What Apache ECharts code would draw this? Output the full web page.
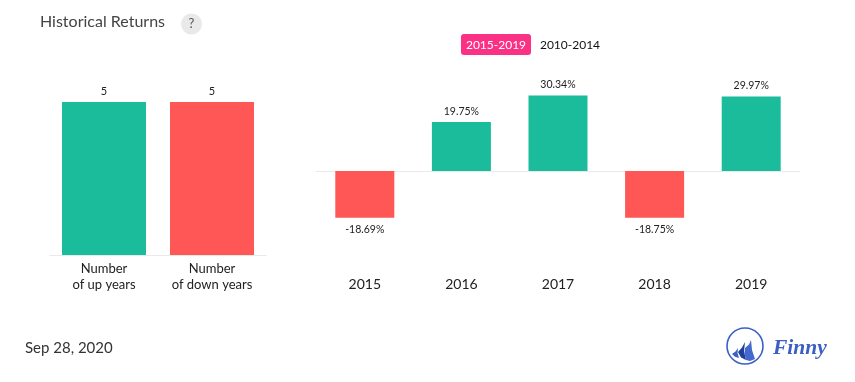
<!DOCTYPE html>
<html><head><meta charset="utf-8">
<style>html,body{margin:0;padding:0;background:#fff}#c{width:855px;height:382px}</style>
<script src="https://cdn.jsdelivr.net/npm/echarts@6/dist/echarts.min.js"></script>
</head><body><div id="c"></div>
<script>
const countCategories = ['Number\nof up years', 'Number\nof down years'];
const countValues = [5, 5];
const years = ['2015', '2016', '2017', '2018', '2019'];
const returns = [-18.69, 19.75, 30.34, -18.75, 29.97];
const rangeLabels = ['2015-2019', '2010-2014'];
const titleText = 'Historical Returns';
const dateText = 'Sep 28, 2020';
const UP = '#1abc9c', DOWN = '#ff5656', FONT = 'Lato';
const fmt = v => v.toFixed(2) + '%';

const chart = echarts.init(document.getElementById('c'), null, {renderer: 'canvas'});
chart.setOption({
  animation: false,
  textStyle: {fontFamily: FONT},
  grid: [
    {left: 50, top: 102, width: 216, height: 153},
    {left: 316.5, top: 71.5, width: 483, height: 199.2}
  ],
  xAxis: [
    {gridIndex: 0, type: 'category', data: countCategories,
     axisLine: {lineStyle: {color: '#e9e9e9', width: 1}}, axisTick: {show: false},
     axisLabel: {interval: 0, color: '#222', fontSize: 13, lineHeight: 16, margin: 6, fontFamily: FONT}},
    {gridIndex: 1, type: 'category', data: years, position: 'bottom',
     axisLine: {onZero: true, lineStyle: {color: '#e9e9e9', width: 1}}, axisTick: {show: false},
     axisLabel: {show: false}},
    {gridIndex: 1, type: 'category', data: years, position: 'bottom',
     axisLine: {show: false, onZero: false}, axisTick: {show: false},
     axisLabel: {color: '#222', fontSize: 14, margin: 6.5, fontFamily: FONT}}
  ],
  yAxis: [
    {gridIndex: 0, type: 'value', min: 0, max: 5, show: false},
    {gridIndex: 1, type: 'value', min: -40, max: 40, show: false}
  ],
  series: [
    {type: 'bar', xAxisIndex: 0, yAxisIndex: 0, barWidth: 84,
     data: countValues.map((v, i) => ({value: v, itemStyle: {color: i === 0 ? UP : DOWN}})),
     label: {show: true, position: 'top', distance: 5, color: '#222', fontSize: 11, fontFamily: FONT}},
    {type: 'bar', xAxisIndex: 1, yAxisIndex: 1, barWidth: 59,
     data: returns.map(v => ({value: v, itemStyle: {color: v >= 0 ? UP : DOWN},
       label: {position: v >= 0 ? 'top' : 'bottom', distance: v >= 0 ? 5 : 6.5}})),
     label: {show: true, color: '#222', fontSize: 10.5, fontFamily: FONT,
       formatter: p => fmt(p.value)}}
  ],
  graphic: [
    {type: 'text', left: 40, top: 14, style: {text: titleText, fill: '#444', font: '16px Lato'}},
    {type: 'circle', shape: {cx: 191.5, cy: 24, r: 10.5}, style: {fill: '#e9e9e9'}},
    {type: 'text', x: 191.5, y: 24, style: {text: '?', fill: '#555', font: '13px Lato', align: 'center', verticalAlign: 'middle'}},
    {type: 'rect', shape: {x: 461, y: 34, width: 70, height: 21, r: 3}, style: {fill: '#fb3185'}},
    {type: 'text', x: 496, y: 45, style: {text: rangeLabels[0], fill: '#fff', font: '12px Lato', align: 'center', verticalAlign: 'middle'}},
    {type: 'text', x: 570, y: 45, style: {text: rangeLabels[1], fill: '#111', font: '12px Lato', align: 'center', verticalAlign: 'middle'}},
    {type: 'text', x: 25, y: 348, style: {text: dateText, fill: '#333', font: '15px Lato', verticalAlign: 'middle'}},
    {type: 'circle', shape: {cx: 745, cy: 346, r: 18}, style: {fill: 'none', stroke: '#3b5fc4', lineWidth: 1.6}},
    {type: 'polygon', shape: {points: [[732,354],[735.5,351.5],[738,348],[737.5,353],[739,358],[735,356.8]]}, style: {fill: '#3b5fc4'}},
    {type: 'polygon', shape: {points: [[738,352],[742,347.5],[745,342],[744,351],[746,360],[741,357.5]]}, style: {fill: '#1f3f9e'}},
    {type: 'polygon', shape: {points: [[745,348],[749,344.5],[751,340],[752,350],[755,359],[750,361],[746,360],[744.5,354]]}, style: {fill: '#4468cc'}},
    {type: 'text', x: 773, y: 348, style: {text: 'Finny', fill: '#3b5fc4', font: 'italic bold 21.5px "Liberation Serif"', verticalAlign: 'middle'}}
  ]
});
</script></body></html>
